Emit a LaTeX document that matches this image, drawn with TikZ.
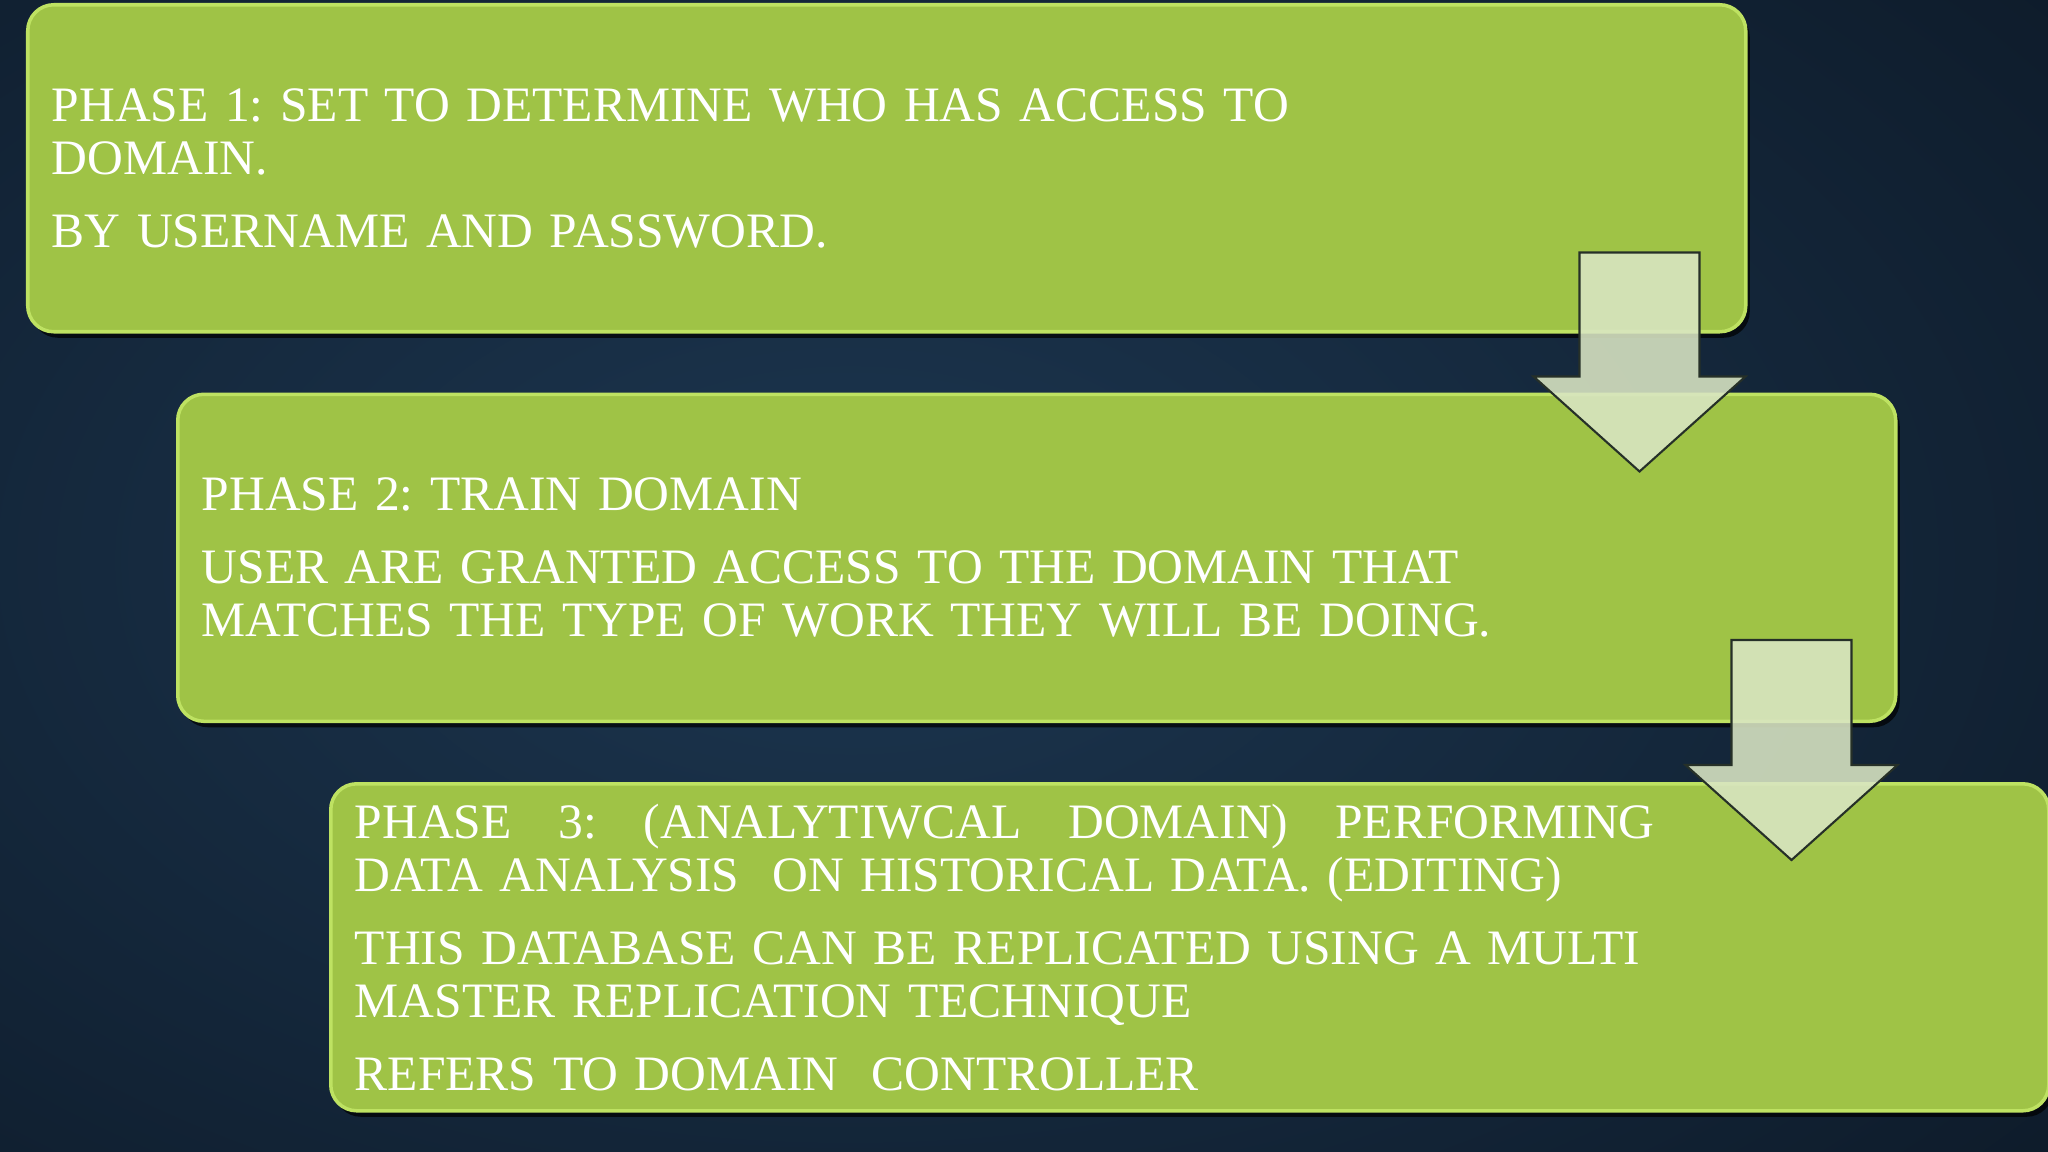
\documentclass[tikz,border=0pt]{standalone}
\usepackage{fontspec}
\setmainfont{Liberation Serif}
\usetikzlibrary{positioning,calc,shadows}
\frenchspacing

\definecolor{bgdark}{RGB}{10,20,32}
\definecolor{bgglow}{RGB}{28,54,80}
\definecolor{phasegreen}{RGB}{159,195,70}
\definecolor{phaserim}{RGB}{190,226,98}
\definecolor{arrowfill}{RGB}{218,230,196}
\definecolor{arrowline}{RGB}{38,48,40}

\tikzset{
  phase/.style={rectangle, rounded corners=0.26cm, fill=phasegreen,
    draw=phaserim, line width=1pt, text=white, text width=16.70cm,
    inner xsep=0.24cm, inner ysep=0pt, minimum height=3.27cm, align=left,
    font=\fontsize{14.1}{15.2}\selectfont,
    drop shadow={shadow xshift=0.04cm, shadow yshift=-0.06cm, opacity=0.7, fill=black}},
  downarrow/.style={fill=arrowfill, fill opacity=0.88, draw=arrowline,
    line width=0.6pt, line join=miter}
}

\begin{document}
\begin{tikzpicture}
  \useasboundingbox (0,0) rectangle (20.48,-11.52);
  % background
  \fill[bgdark] (0,0) rectangle (20.48,-11.52);
  \begin{scope}
    \clip (0,0) rectangle (20.48,-11.52);
    \shade[inner color=bgglow, outer color=bgdark] (8.5,-5.6) ellipse (20 and 12);
  \end{scope}

  \node[phase, anchor=north west] (phaseone) at (0.26,-0.03)
    {PHASE 1: SET TO DETERMINE WHO HAS ACCESS TO\\
     DOMAIN.\\[5.4pt]
     BY USERNAME AND PASSWORD.};
  \node[phase, below=0.59cm of phaseone.south west, anchor=north west, xshift=1.5cm] (phasetwo)
    {PHASE 2: TRAIN DOMAIN\\[5.4pt]
     USER ARE GRANTED ACCESS TO THE DOMAIN THAT\\
     MATCHES THE TYPE OF WORK THEY WILL BE DOING.};
  \node[phase, below=0.59cm of phasetwo.south west, anchor=north west, xshift=1.53cm] (phasethree)
    {\hbox to 13.0cm{PHASE\hfill 3:\hfill (ANALYTIWCAL\hfill DOMAIN)\hfill PERFORMING}\\
     DATA ANALYSIS\ \ ON HISTORICAL DATA. (EDITING)\\[5.4pt]
     THIS DATABASE CAN BE REPLICATED USING A MULTI\\
     MASTER REPLICATION TECHNIQUE\\[5.4pt]
     REFERS TO DOMAIN\ \ CONTROLLER};

  \coordinate (arrowonetop) at ([xshift=-1.08cm, yshift=0.81cm]phaseone.south east);
  \coordinate (arrowonetip) at ($(phasetwo.north -| arrowonetop)+(0,-0.79)$);
  \coordinate (arrowtwotop) at ([xshift=-1.06cm, yshift=0.83cm]phasetwo.south east);
  \coordinate (arrowtwotip) at ($(phasethree.north -| arrowtwotop)+(0,-0.78)$);

  \foreach \a/\b in {arrowonetop/arrowonetip, arrowtwotop/arrowtwotip}
    \draw[downarrow] ($(\a)+(-0.6,0)$) -- ($(\b)+(-0.6,0.95)$) -- ($(\b)+(-1.06,0.95)$)
      -- (\b) -- ($(\b)+(1.06,0.95)$) -- ($(\b)+(0.6,0.95)$) -- ($(\a)+(0.6,0)$) -- cycle;
\end{tikzpicture}
\end{document}
